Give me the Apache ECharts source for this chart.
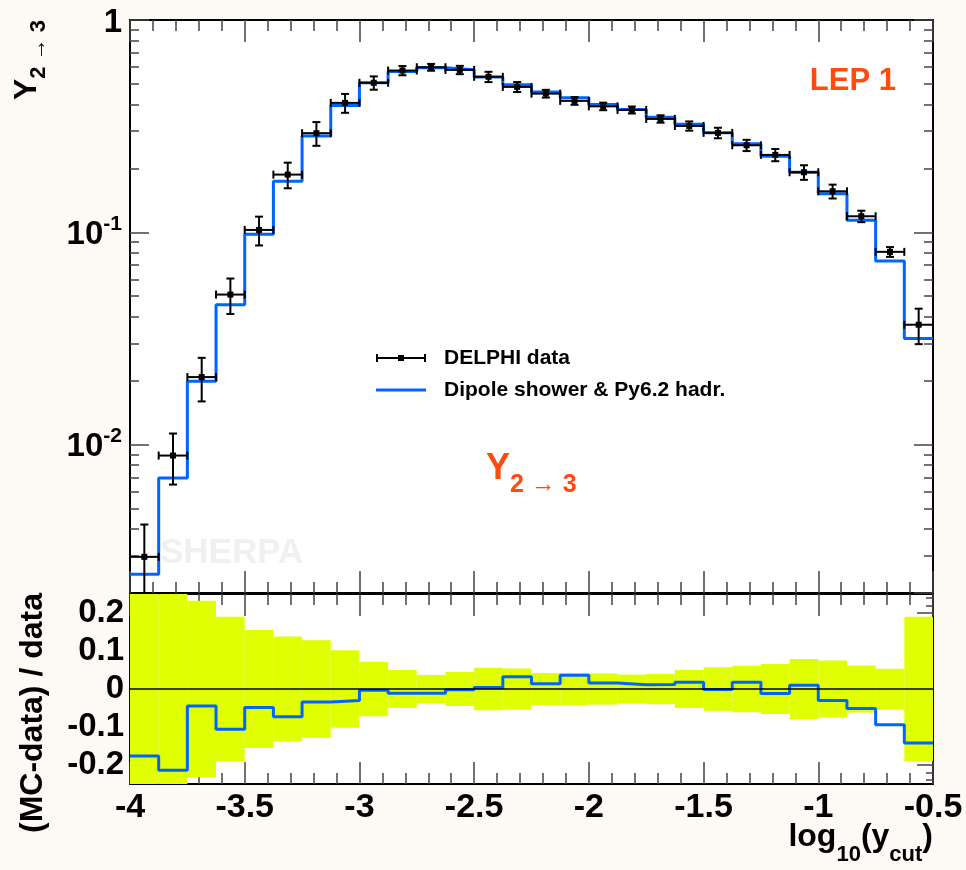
<!DOCTYPE html>
<html><head><meta charset="utf-8">
<script src="https://cdn.jsdelivr.net/npm/echarts@6/dist/echarts.min.js"></script>
<style>html,body{margin:0;padding:0;background:#fdf9f5;} #c{width:966px;height:870px;}</style>
</head><body><div id="c"></div>
<script>
// ---- data ----
const binEdges = [-4, -3.875, -3.75, -3.625, -3.5, -3.375, -3.25, -3.125, -3, -2.875, -2.75, -2.625, -2.5, -2.375,
  -2.25, -2.125, -2, -1.875, -1.75, -1.625, -1.5, -1.375, -1.25, -1.125, -1, -0.875, -0.75, -0.625, -0.5];
const dataY = [0.00296, 0.00888, 0.0208, 0.0509, 0.1026, 0.187, 0.293, 0.407, 0.506, 0.578, 0.599, 0.582, 0.540, 0.484,
  0.450, 0.416, 0.392, 0.377, 0.342, 0.317, 0.294, 0.257, 0.2315, 0.1918, 0.156, 0.119, 0.0809, 0.0367];
const dataErr = [0.42, 0.27, 0.232, 0.19, 0.155, 0.138, 0.128, 0.102, 0.072, 0.05, 0.037, 0.045, 0.056, 0.054,
  0.042, 0.042, 0.041, 0.038, 0.040, 0.05, 0.057, 0.061, 0.066, 0.079, 0.075, 0.062, 0.053, 0.19];
const mcY = [0.00245, 0.00697, 0.0199, 0.0456, 0.098, 0.174, 0.284, 0.396, 0.507, 0.572, 0.595, 0.583, 0.539, 0.495,
  0.458, 0.430, 0.400, 0.379, 0.348, 0.323, 0.294, 0.261, 0.228, 0.192, 0.152, 0.114, 0.0732, 0.0316];
const ratio = [-0.176, -0.214, -0.045, -0.106, -0.049, -0.073, -0.034, -0.030, -0.003, -0.011, -0.011, -0.002, 0.004, 0.032,
  0.014, 0.036, 0.016, 0.011, 0.012, 0.018, -0.001, 0.018, -0.012, 0.010, -0.030, -0.051, -0.094, -0.142];
const logMinorTicks = [0.003, 0.004, 0.005, 0.006, 0.007, 0.008, 0.009,
  0.02, 0.03, 0.04, 0.05, 0.06, 0.07, 0.08, 0.09,
  0.2, 0.3, 0.4, 0.5, 0.6, 0.7, 0.8, 0.9];
const ratioMajorTicks = [-0.2, -0.1, 0, 0.1, 0.2];
const ratioMinorTicks = [-0.24, -0.22, -0.18, -0.16, -0.14, -0.12, -0.08, -0.06, -0.04, -0.02,
  0.02, 0.04, 0.06, 0.08, 0.12, 0.14, 0.16, 0.18, 0.22, 0.24];
const yMin = 0.002, yMax = 1;

// ---- styling ----
const FONT = '"Liberation Sans", Arial, Helvetica, sans-serif';
const BLUE = '#0064ff';
const YELLOW = '#e0ff00';
const ORANGE = '#ff4b0d';
const tickStyle = {color: '#444', width: 1.5};
const frameLine = {show: true, onZero: false, lineStyle: {color: '#000', width: 2}};

function xAxisDef(grid, pos, showLabel) {
  return {
    type: 'value', gridIndex: grid, position: pos, min: -4, max: -0.5, interval: 0.5,
    axisLine: frameLine,
    axisTick: {show: true, inside: true, length: 22, lineStyle: tickStyle},
    minorTick: {show: true, splitNumber: 5, length: 11, lineStyle: tickStyle},
    splitLine: {show: false}, minorSplitLine: {show: false},
    axisLabel: showLabel ? {show: true, margin: 7, color: '#000', fontSize: 34, fontWeight: 'bold', fontFamily: FONT} : {show: false}
  };
}
function logFmt(v) {
  const e = Math.round(Math.log10(v));
  if (e === 0) return '{b|1}';
  return '{b|10}{s|' + e + '}';
}
const logRich = {
  b: {fontSize: 33, fontWeight: 'bold', fontFamily: FONT, color: '#000', lineHeight: 38, verticalAlign: 'bottom'},
  s: {fontSize: 21, fontWeight: 'bold', fontFamily: FONT, color: '#000', lineHeight: 38, verticalAlign: 'top'}
};
function logAxis(pos, labels) {
  return {
    type: 'log', logBase: 10, gridIndex: 0, position: pos, min: yMin, max: yMax,
    axisLine: frameLine,
    axisTick: {show: true, inside: true, length: 19, lineStyle: tickStyle},
    splitLine: {show: false},
    axisLabel: labels ? {show: true, margin: 8, showMinLabel: false, formatter: logFmt, rich: logRich} : {show: false}
  };
}
function logMinorAxis(pos) {
  return {
    type: 'value', gridIndex: 0, position: pos, min: Math.log10(yMin), max: Math.log10(yMax),
    axisLine: {show: false},
    axisTick: {show: true, inside: true, length: 9, lineStyle: tickStyle, customValues: logMinorTicks.map(v => Math.log10(v))},
    axisLabel: {show: false}, splitLine: {show: false}
  };
}
function ratioAxis(pos, labels) {
  return {
    type: 'value', gridIndex: 1, position: pos, min: -0.25, max: 0.25,
    axisLine: frameLine,
    axisTick: {show: true, inside: true, length: 16, lineStyle: tickStyle, customValues: ratioMajorTicks},
    splitLine: {show: false},
    axisLabel: labels ? {show: true, margin: 6, customValues: ratioMajorTicks, color: '#000', fontSize: 33, fontWeight: 'bold', fontFamily: FONT} : {show: false}
  };
}
function ratioMinorAxis(pos) {
  return {
    type: 'value', gridIndex: 1, position: pos, min: -0.25, max: 0.25,
    axisLine: {show: false},
    axisTick: {show: true, inside: true, length: 7, lineStyle: tickStyle, customValues: ratioMinorTicks},
    axisLabel: {show: false}, splitLine: {show: false}
  };
}

// ---- series data built from arrays ----
const mcStep = binEdges.slice(0, -1).map((x, i) => [x, mcY[i]]).concat([[binEdges[binEdges.length - 1], mcY[mcY.length - 1]]]);
const ratioStep = binEdges.slice(0, -1).map((x, i) => [x, ratio[i]]).concat([[binEdges[binEdges.length - 1], ratio[ratio.length - 1]]]);
const dataPts = dataY.map((y, i) => [(binEdges[i] + binEdges[i + 1]) / 2, y, dataErr[i], binEdges[i], binEdges[i + 1]]);
const bandPts = dataErr.map((e, i) => [binEdges[i], binEdges[i + 1], e]);

const chart = echarts.init(document.getElementById('c'), null, {renderer: 'canvas'});
const option = {
  animation: false,
  backgroundColor: '#fdf9f5',
  grid: [
    {left: 130, right: 33, top: 20, height: 573, show: true, backgroundColor: '#fff', borderWidth: 0},
    {left: 130, right: 33, top: 594, height: 190, show: true, backgroundColor: '#fff', borderWidth: 0}
  ],
  xAxis: [xAxisDef(0, 'bottom', false), xAxisDef(0, 'top', false), xAxisDef(1, 'bottom', true), xAxisDef(1, 'top', false)],
  yAxis: [logAxis('left', true), logAxis('right', false), logMinorAxis('left'), logMinorAxis('right'),
    ratioAxis('left', true), ratioAxis('right', false), ratioMinorAxis('left'), ratioMinorAxis('right')],
  legend: {
    orient: 'vertical', left: 371, top: 341, itemWidth: 50, itemHeight: 8, itemGap: 8, selectedMode: false,
    textStyle: {fontSize: 21, fontWeight: 'bold', fontFamily: FONT, color: '#000', lineHeight: 24, padding: [0, 0, 0, 13]},
    data: [
      {name: 'DELPHI data', icon: 'path://M0,0H2V8H0Z M48,0H50V8H48Z M0,3H50V5H0Z M22,1H28V7H22Z', itemStyle: {color: '#000'}},
      {name: 'Dipole shower & Py6.2 hadr.', icon: 'path://M0,0L50,0L50,0Z M0,2.5H50V5.5H0Z M0,8L50,8L50,8Z', itemStyle: {color: BLUE}}
    ]
  },
  series: [
    {
      type: 'custom', name: 'band', xAxisIndex: 2, yAxisIndex: 4, clip: true, z: 1,
      encode: {x: [0, 1], y: 2},
      data: bandPts,
      renderItem: function (params, api) {
        const p1 = api.coord([api.value(0), api.value(2)]);
        const p2 = api.coord([api.value(1), -api.value(2)]);
        return {type: 'rect', shape: {x: p1[0], y: p1[1], width: p2[0] - p1[0], height: p2[1] - p1[1]}, style: {fill: YELLOW}};
      }
    },
    {
      type: 'line', name: 'ratio', xAxisIndex: 2, yAxisIndex: 4, step: 'end', symbol: 'none', showSymbol: false, z: 3,
      lineStyle: {color: BLUE, width: 3}, itemStyle: {color: BLUE},
      data: ratioStep,
      markLine: {silent: true, symbol: ['none', 'none'], label: {show: false},
        lineStyle: {color: '#000', width: 1.5, type: 'solid'}, data: [{yAxis: 0}]}
    },
    {
      type: 'line', name: 'Dipole shower & Py6.2 hadr.', xAxisIndex: 0, yAxisIndex: 0, step: 'end', symbol: 'none', showSymbol: false, z: 3,
      lineStyle: {color: BLUE, width: 3}, itemStyle: {color: BLUE},
      data: mcStep
    },
    {
      type: 'custom', name: 'DELPHI data', xAxisIndex: 0, yAxisIndex: 0, clip: true, z: 5,
      encode: {x: 0, y: 1},
      itemStyle: {color: '#000'},
      data: dataPts,
      renderItem: function (params, api) {
        const xc = api.value(0), y = api.value(1), e = api.value(2), xl = api.value(3), xh = api.value(4);
        const pc = api.coord([xc, y]);
        const pl = api.coord([xl, y]);
        const ph = api.coord([xh, y]);
        const pt = api.coord([xc, y * (1 + e)]);
        const pb = api.coord([xc, y * (1 - e)]);
        const cap = 4, sq = 3;
        const st = {stroke: '#000', lineWidth: 2};
        return {type: 'group', children: [
          {type: 'line', shape: {x1: pl[0], y1: pc[1], x2: ph[0], y2: pc[1]}, style: st},
          {type: 'line', shape: {x1: pl[0], y1: pc[1] - cap, x2: pl[0], y2: pc[1] + cap}, style: st},
          {type: 'line', shape: {x1: ph[0], y1: pc[1] - cap, x2: ph[0], y2: pc[1] + cap}, style: st},
          {type: 'line', shape: {x1: pc[0], y1: pt[1], x2: pc[0], y2: pb[1]}, style: st},
          {type: 'line', shape: {x1: pc[0] - cap, y1: pt[1], x2: pc[0] + cap, y2: pt[1]}, style: st},
          {type: 'line', shape: {x1: pc[0] - cap, y1: pb[1], x2: pc[0] + cap, y2: pb[1]}, style: st},
          {type: 'rect', shape: {x: pc[0] - sq, y: pc[1] - sq, width: 2 * sq, height: 2 * sq}, style: {fill: '#000'}}
        ]};
      }
    }
  ],
  graphic: [
    {type: 'text', z: 1, x: 160, y: 553, style: {text: 'SHERPA', fontSize: 35, fontWeight: 'bold', fontFamily: FONT, fill: '#f0f0f0', verticalAlign: 'middle'}},
    {type: 'text', z: 10, x: 896, y: 81, style: {text: 'LEP 1', fontSize: 31, fontWeight: 'bold', fontFamily: FONT, fill: ORANGE, align: 'right', verticalAlign: 'middle'}},
    {type: 'text', z: 10, x: 486, y: 451, style: {
      text: '{m|Y}{s|2 → 3}', align: 'left', verticalAlign: 'top',
      rich: {
        m: {fontSize: 36, fontWeight: 'bold', fontFamily: FONT, fill: ORANGE, lineHeight: 47, verticalAlign: 'top'},
        s: {fontSize: 25, fontWeight: 'bold', fontFamily: FONT, fill: ORANGE, lineHeight: 47, verticalAlign: 'bottom'}
      }}},
    {type: 'text', z: 10, x: 11, y: 60, rotation: Math.PI / 2, style: {
      text: '{m|Y}{s|2 → 3}', align: 'center', verticalAlign: 'top',
      rich: {
        m: {fontSize: 32, fontWeight: 'bold', fontFamily: FONT, fill: '#000', lineHeight: 39, verticalAlign: 'top'},
        s: {fontSize: 22, fontWeight: 'bold', fontFamily: FONT, fill: '#000', lineHeight: 39, verticalAlign: 'bottom'}
      }}},
    {type: 'text', z: 10, x: 33, y: 713, rotation: Math.PI / 2, style: {
      text: '(MC-data) / data', fontSize: 32, fontWeight: 'bold', fontFamily: FONT, fill: '#000', align: 'center', verticalAlign: 'middle'}},
    {type: 'text', z: 10, x: 933, y: 821, style: {
      text: '{m|log}{s|10}{m|(y}{s|cut}{m|)}', align: 'right', verticalAlign: 'top',
      rich: {
        m: {fontSize: 32, fontWeight: 'bold', fontFamily: FONT, fill: '#000', lineHeight: 45, verticalAlign: 'top'},
        s: {fontSize: 22, fontWeight: 'bold', fontFamily: FONT, fill: '#000', lineHeight: 45, verticalAlign: 'bottom'}
      }}}
  ]
};
chart.setOption(option);
</script>
</body></html>
